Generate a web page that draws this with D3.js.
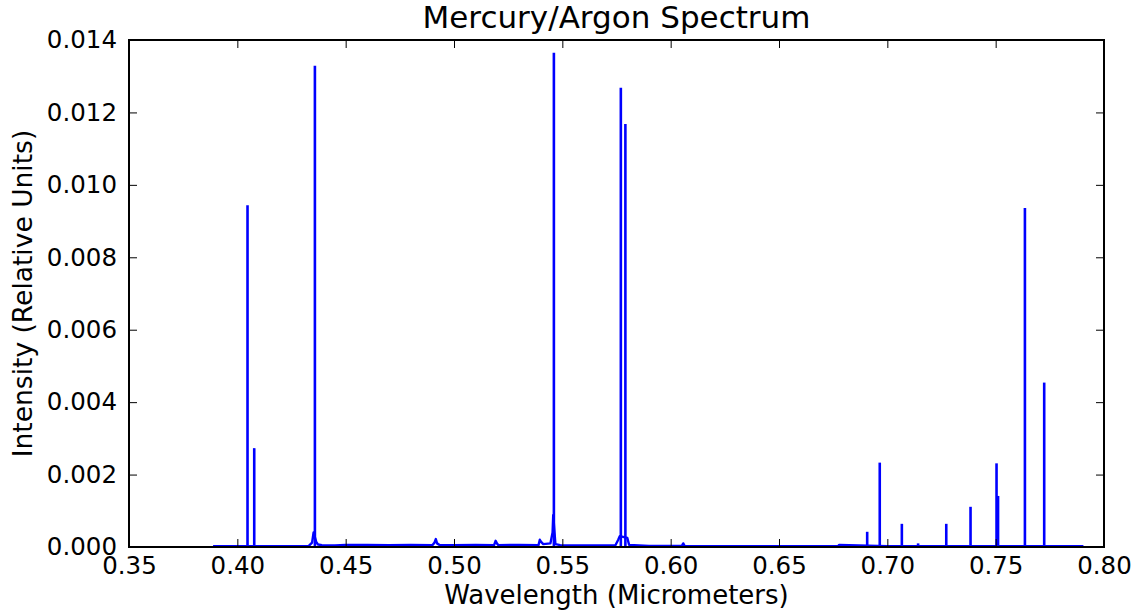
<!DOCTYPE html>
<html>
<head>
<meta charset="utf-8">
<script src="https://cdn.jsdelivr.net/npm/d3@7"></script>
<style>
  body { margin: 0; background: #fff; }
  text { font-family: "DejaVu Sans", sans-serif; fill: #000; }
</style>
</head>
<body>
<div id="chart"></div>
<script>
// ======================================
// Data
// ======================================

// emission lines (micrometers) and their peak intensity
var lineWavelengths = [0.4047, 0.4078, 0.4358, 0.5461, 0.5770, 0.5791,
  0.6907, 0.6965, 0.7067, 0.7142, 0.7272, 0.7384, 0.7504, 0.7511, 0.7635, 0.7724];
var lineIntensities = [0.00944, 0.00273, 0.01329, 0.01365, 0.01268, 0.01168,
  0.00042, 0.00233, 0.00064, 0.00010, 0.00064, 0.00111, 0.00231, 0.00141, 0.00936, 0.00454];

// low level continuum / noise between the lines
var baseWavelengths = [0.3888, 0.4000, 0.4330, 0.4345, 0.4352, 0.4364, 0.4372, 0.4390,
  0.4450, 0.4500, 0.4600, 0.4700, 0.4800, 0.4900, 0.4910, 0.4916, 0.4922, 0.4935,
  0.5000, 0.5100, 0.5185, 0.5192, 0.5198, 0.5205, 0.5300, 0.5390, 0.5396, 0.5402,
  0.5412, 0.5445, 0.5455, 0.5458, 0.5464, 0.5468, 0.5490, 0.5600, 0.5745, 0.5758,
  0.5765, 0.5800, 0.5808, 0.5900, 0.6000, 0.6052, 0.6058, 0.6064, 0.6300, 0.6700,
  0.6772, 0.6778, 0.7000, 0.7200, 0.7600, 0.7800, 0.7905];
var baseIntensities = [0.00002, 0.00002, 0.00003, 0.00012, 0.00040, 0.00014, 0.00007, 0.00005,
  0.00004, 0.00006, 0.00006, 0.00005, 0.00006, 0.00005, 0.00012, 0.00022, 0.00010, 0.00005,
  0.00005, 0.00006, 0.00005, 0.00017, 0.00010, 0.00005, 0.00006, 0.00005, 0.00020, 0.00014,
  0.00008, 0.00010, 0.00040, 0.00088, 0.00040, 0.00008, 0.00005, 0.00004, 0.00005, 0.00020,
  0.00030, 0.00025, 0.00006, 0.00003, 0.00003, 0.00003, 0.00010, 0.00003, 0.00002, 0.00002,
  0.00002, 0.00006, 0.00002, 0.00002, 0.00002, 0.00002, 0.00002];

var xTicks = [0.35, 0.40, 0.45, 0.50, 0.55, 0.60, 0.65, 0.70, 0.75, 0.80];
var yTicks = [0.000, 0.002, 0.004, 0.006, 0.008, 0.010, 0.012, 0.014];

// ======================================
// Layout
// ======================================
var svgWidth = 1134;
var svgHeight = 613;

var margin = { top: 40, right: 30, bottom: 66, left: 129 };
var width = svgWidth - margin.left - margin.right;
var height = svgHeight - margin.top - margin.bottom;

var svg = d3.select("#chart")
  .append("svg")
  .attr("width", svgWidth)
  .attr("height", svgHeight);

var chartGroup = svg.append("g")
  .attr("transform", `translate(${margin.left}, ${margin.top})`);

var xScale = d3.scaleLinear().domain([0.35, 0.80]).range([0, width]);
var yScale = d3.scaleLinear().domain([0, 0.014]).range([height, 0]);

svg.append("defs").append("clipPath")
  .attr("id", "plotClip")
  .append("rect")
  .attr("width", width)
  .attr("height", height);

var plotGroup = chartGroup.append("g").attr("clip-path", "url(#plotClip)");

// continuum
var baseLine = d3.line()
  .x((d, i) => xScale(baseWavelengths[i]))
  .y(d => yScale(d));

plotGroup.append("path")
  .datum(baseIntensities)
  .attr("d", baseLine)
  .attr("fill", "none")
  .attr("stroke", "#0000ff")
  .attr("stroke-width", 2.4)
  .attr("stroke-linejoin", "round");

// emission lines
plotGroup.selectAll(".em-line")
  .data(lineWavelengths)
  .enter()
  .append("line")
  .attr("class", "em-line")
  .attr("x1", d => xScale(d))
  .attr("x2", d => xScale(d))
  .attr("y1", yScale(0))
  .attr("y2", (d, i) => yScale(lineIntensities[i]))
  .attr("stroke", "#0000ff")
  .attr("stroke-width", 2.6);

// ticks inward on all four sides
var tickLen = 8;
var fmtX = d3.format(".2f");
var fmtY = d3.format(".3f");

var bottomAxis = d3.axisBottom(xScale).tickValues(xTicks).tickSizeInner(-tickLen).tickSizeOuter(0).tickPadding(10).tickFormat(fmtX);
var topAxis = d3.axisTop(xScale).tickValues(xTicks).tickSizeInner(-tickLen).tickSizeOuter(0).tickFormat("");
var leftAxis = d3.axisLeft(yScale).tickValues(yTicks).tickSizeInner(-tickLen).tickSizeOuter(0).tickPadding(12).tickFormat(fmtY);
var rightAxis = d3.axisRight(yScale).tickValues(yTicks).tickSizeInner(-tickLen).tickSizeOuter(0).tickFormat("");

var axes = [
  chartGroup.append("g").attr("transform", `translate(0, ${height})`).call(bottomAxis),
  chartGroup.append("g").call(topAxis),
  chartGroup.append("g").call(leftAxis),
  chartGroup.append("g").attr("transform", `translate(${width}, 0)`).call(rightAxis)
];

axes.forEach(a => {
  a.select(".domain").remove();
  a.selectAll(".tick line").attr("stroke", "#000").attr("stroke-width", 1);
  a.selectAll(".tick text").style("font-size", "24.5px").attr("fill", "#000");
});

// frame
chartGroup.append("rect")
  .attr("width", width)
  .attr("height", height)
  .attr("fill", "none")
  .attr("stroke", "#000")
  .attr("stroke-width", 2);

// title and axis labels
svg.append("text")
  .attr("x", margin.left + width / 2)
  .attr("y", 28)
  .attr("text-anchor", "middle")
  .style("font-size", "31px")
  .text("Mercury/Argon Spectrum");

svg.append("text")
  .attr("x", margin.left + width / 2)
  .attr("y", 604)
  .attr("text-anchor", "middle")
  .style("font-size", "26px")
  .text("Wavelength (Micrometers)");

svg.append("text")
  .attr("transform", `translate(32, ${margin.top + height / 2}) rotate(-90)`)
  .attr("text-anchor", "middle")
  .style("font-size", "26.5px")
  .text("Intensity (Relative Units)");
</script>
</body>
</html>
